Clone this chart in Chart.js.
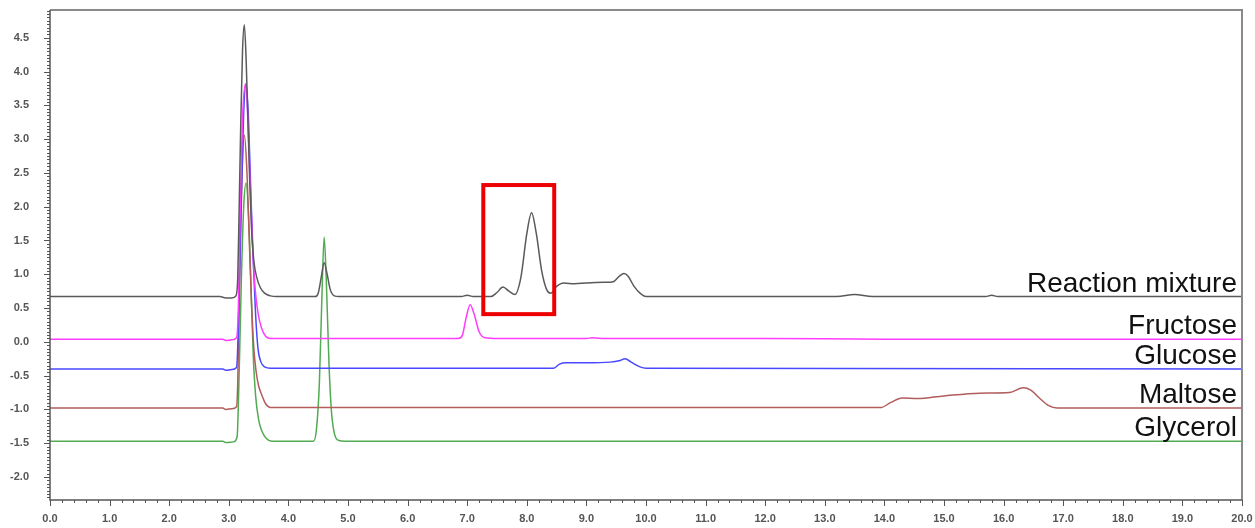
<!DOCTYPE html>
<html>
<head>
<meta charset="utf-8">
<title>Chromatogram</title>
<script src="https://cdn.jsdelivr.net/npm/chart.js@4"></script>
<style>
  html, body { margin: 0; padding: 0; background: #fff; }
  #wrap { width: 1255px; height: 528px; }
</style>
</head>
<body>
<div id="wrap"><canvas id="chroma" width="1255" height="528"></canvas></div>
<script>
(() => {
  "use strict";

  // ── Data: [retention time (min), signal] ────────────────────────────────
  const SERIES_NAMES = ["Reaction mixture", "Fructose", "Glucose", "Maltose", "Glycerol"];
  const SERIES_COLORS = ["#5a5a5a", "#ff3cff", "#4848ff", "#b25c5c", "#52aa52"];

  const MIXTURE = [
    [0, 0.67], [2.85, 0.67], [2.95, 0.65], [3.05, 0.65], [3.12, 0.68],
    [3.15, 0.95], [3.17, 1.8], [3.2, 3.2], [3.23, 4.3], [3.26, 4.69],
    [3.29, 4.2], [3.32, 3.3], [3.35, 2.4], [3.38, 1.7], [3.42, 1.2],
    [3.47, 0.95], [3.53, 0.8], [3.6, 0.72], [3.7, 0.68], [3.8, 0.67],
    [4.45, 0.67], [4.5, 0.72], [4.55, 0.95], [4.6, 1.17], [4.65, 1.0],
    [4.7, 0.78], [4.77, 0.68], [4.85, 0.67],
    [6.9, 0.67], [7.0, 0.69], [7.1, 0.67], [7.4, 0.67], [7.5, 0.73],
    [7.6, 0.81], [7.7, 0.75], [7.8, 0.7], [7.9, 0.95], [8.0, 1.6],
    [8.08, 1.91], [8.16, 1.6], [8.25, 1.05], [8.33, 0.78], [8.4, 0.72],
    [8.5, 0.82], [8.62, 0.87], [8.8, 0.86], [9.0, 0.87], [9.3, 0.88],
    [9.45, 0.89], [9.55, 0.97], [9.63, 1.01], [9.7, 0.97], [9.8, 0.82],
    [9.9, 0.72], [10.0, 0.67],
    [13.2, 0.67], [13.5, 0.7], [13.8, 0.67], [15.7, 0.67], [15.8, 0.69],
    [15.9, 0.67], [20, 0.67],
  ];

  const FRUCTOSE = [
    [0, 0.04], [2.9, 0.04], [2.95, 0.02], [3.05, 0.03], [3.13, 0.06],
    [3.16, 0.5], [3.19, 1.9], [3.23, 3.3], [3.28, 3.82], [3.32, 3.3],
    [3.36, 2.3], [3.4, 1.4], [3.44, 0.8], [3.49, 0.43], [3.55, 0.2],
    [3.62, 0.08], [3.7, 0.05], [6.85, 0.05], [6.92, 0.1], [6.98, 0.35],
    [7.05, 0.55], [7.12, 0.4], [7.2, 0.15], [7.3, 0.06], [7.5, 0.05],
    [9.0, 0.05], [9.1, 0.06], [9.3, 0.05], [12.0, 0.05], [14.0, 0.04],
    [20, 0.04],
  ];

  const GLUCOSE = [
    [0, -0.4], [2.9, -0.4], [2.95, -0.42], [3.05, -0.41], [3.13, -0.38],
    [3.16, 0.2], [3.2, 1.8], [3.25, 3.4], [3.29, 3.82], [3.33, 3.3],
    [3.37, 2.2], [3.41, 1.2], [3.45, 0.4], [3.49, -0.1], [3.54, -0.3],
    [3.6, -0.37], [3.7, -0.39], [8.45, -0.39], [8.55, -0.33], [8.65, -0.31],
    [9.0, -0.31], [9.4, -0.3], [9.55, -0.28], [9.65, -0.25], [9.75, -0.3],
    [9.9, -0.37], [10.0, -0.39], [20, -0.4],
  ];

  const MALTOSE = [
    [0, -0.98], [2.9, -0.98], [2.95, -1.0], [3.05, -0.99], [3.13, -0.96],
    [3.15, -0.6], [3.18, 0.8], [3.22, 2.4], [3.26, 3.06], [3.3, 2.6],
    [3.34, 1.6], [3.38, 0.6], [3.42, -0.1], [3.46, -0.45], [3.5, -0.65],
    [3.56, -0.8], [3.62, -0.92], [3.7, -0.97], [13.95, -0.97], [14.1, -0.9],
    [14.3, -0.83], [14.55, -0.84], [15.0, -0.8], [15.6, -0.76], [16.1, -0.75],
    [16.33, -0.68], [16.45, -0.71], [16.6, -0.83], [16.75, -0.94],
    [16.9, -0.98], [20, -0.98],
  ];

  const GLYCEROL = [
    [0, -1.47], [2.9, -1.47], [2.95, -1.49], [3.08, -1.48], [3.14, -1.4],
    [3.17, -0.6], [3.21, 0.9], [3.25, 2.0], [3.29, 2.35], [3.33, 1.9],
    [3.37, 0.9], [3.41, -0.2], [3.45, -0.8], [3.5, -1.15], [3.56, -1.33],
    [3.63, -1.43], [3.72, -1.47], [4.42, -1.47], [4.47, -1.3], [4.52, -0.6],
    [4.56, 0.6], [4.6, 1.55], [4.64, 0.8], [4.68, -0.3], [4.72, -1.0],
    [4.77, -1.35], [4.85, -1.46], [4.95, -1.47], [20, -1.47],
  ];

  const X_TICKS = [0, 1, 2, 3, 4, 5, 6, 7, 8, 9, 10, 11, 12, 13, 14, 15, 16, 17, 18, 19, 20];
  const Y_TICKS = [-2.0, -1.5, -1.0, -0.5, 0.0, 0.5, 1.0, 1.5, 2.0, 2.5, 3.0, 3.5, 4.0, 4.5];

  // highlighted region (data coords): x from/to, y from/to
  const HIGHLIGHT = { x0: 7.27, x1: 8.46, y0: 0.41, y1: 2.32 };

  const ALL = [MIXTURE, FRUCTOSE, GLUCOSE, MALTOSE, GLYCEROL];

  // ── Frame, minor ticks, trace names, red box ──────────────────────────
  const decorPlugin = {
    id: "decor",
    afterDatasetsDraw(chart) {
      const { ctx, chartArea: a, scales } = chart;
      const xs = scales.x, ys = scales.y;
      ctx.save();

      // red box
      ctx.strokeStyle = "#ee0000";
      ctx.lineWidth = 4;
      const bx0 = xs.getPixelForValue(HIGHLIGHT.x0);
      const bx1 = xs.getPixelForValue(HIGHLIGHT.x1);
      const by0 = ys.getPixelForValue(HIGHLIGHT.y1);
      const by1 = ys.getPixelForValue(HIGHLIGHT.y0);
      ctx.strokeRect(bx0, by0, bx1 - bx0, by1 - by0);

      // trace names, sitting just above each baseline at the right edge
      ctx.fillStyle = "#111";
      ctx.font = "28px 'Liberation Sans', Arial, sans-serif";
      ctx.textAlign = "right";
      ctx.textBaseline = "alphabetic";
      ALL.forEach((pts, i) => {
        const last = pts[pts.length - 1];
        const y = ys.getPixelForValue(last[1]) - 5;
        ctx.fillText(SERIES_NAMES[i], a.right - 5, y);
      });

      // top + right border
      ctx.strokeStyle = "#8a8a8a";
      ctx.lineWidth = 2;
      ctx.beginPath();
      ctx.moveTo(a.left, a.top);
      ctx.lineTo(a.right, a.top);
      ctx.lineTo(a.right, a.bottom);
      ctx.stroke();

      // left + bottom axis
      ctx.strokeStyle = "#555";
      ctx.lineWidth = 1.5;
      ctx.beginPath();
      ctx.moveTo(a.left, a.top);
      ctx.lineTo(a.left, a.bottom);
      ctx.lineTo(a.right, a.bottom);
      ctx.stroke();

      // tick marks
      ctx.lineWidth = 1;
      ctx.beginPath();
      for (let k = 0; k <= 100; k++) {
        const v = k * 0.2;
        const px = Math.round(xs.getPixelForValue(v)) + 0.5;
        const len = k % 5 === 0 ? 6 : 3;
        ctx.moveTo(px, a.bottom);
        ctx.lineTo(px, a.bottom + len);
      }
      for (let k = -46; k <= 98; k++) {
        const v = k * 0.05;
        const py = Math.round(ys.getPixelForValue(v)) + 0.5;
        const len = k % 10 === 0 ? 6 : 3;
        ctx.moveTo(a.left, py);
        ctx.lineTo(a.left - len, py);
      }
      ctx.stroke();
      ctx.restore();
    },
  };

  const tickFont = { family: "'Liberation Sans', Arial, sans-serif", size: 11, weight: "bold" };

  // no automatic label overhang padding: the frame is placed by layout.padding
  const noPad = (s) => {
    s.paddingTop = 0;
    s.paddingBottom = 0;
    s.paddingLeft = 0;
    s.paddingRight = 0;
  };

  new Chart(document.getElementById("chroma").getContext("2d"), {
    type: "line",
    data: {
      datasets: ALL.map((pts, i) => ({
        label: SERIES_NAMES[i],
        data: pts.map(([x, y]) => ({ x, y })),
        borderColor: SERIES_COLORS[i],
        borderWidth: 1.5,
        pointRadius: 0,
        fill: false,
        cubicInterpolationMode: "monotone",
      })),
    },
    options: {
      responsive: false,
      animation: false,
      layout: { padding: { top: 10, right: 13, left: 0, bottom: 0 } },
      plugins: { legend: { display: false }, tooltip: { enabled: false } },
      scales: {
        x: {
          type: "linear",
          min: 0,
          max: 20,
          afterBuildTicks: (s) => { s.ticks = X_TICKS.map((v) => ({ value: v })); },
          afterFit: (s) => { s.height = 28; noPad(s); },
          ticks: {
            autoSkip: false,
            maxRotation: 0,
            padding: 12,
            color: "#555",
            font: tickFont,
            callback: (v) => Number(v).toFixed(1),
          },
          grid: { display: false, drawTicks: false },
          border: { display: false },
        },
        y: {
          type: "linear",
          min: -2.34,
          max: 4.91,
          afterBuildTicks: (s) => { s.ticks = Y_TICKS.map((v) => ({ value: v })); },
          afterFit: (s) => { s.width = 50; noPad(s); },
          ticks: {
            autoSkip: false,
            padding: 21,
            color: "#555",
            font: tickFont,
            callback: (v) => Number(v).toFixed(1),
          },
          grid: { display: false, drawTicks: false },
          border: { display: false },
        },
      },
    },
    plugins: [decorPlugin],
  });
})();
</script>
</body>
</html>
